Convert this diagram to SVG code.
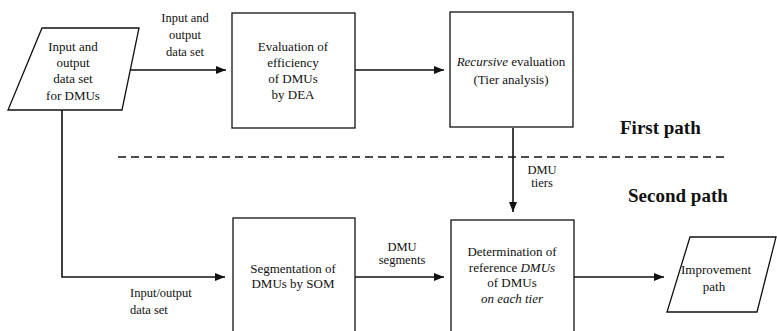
<svg xmlns="http://www.w3.org/2000/svg" width="777" height="331" viewBox="0 0 777 331" font-family="Liberation Serif, serif">
<style>
text{font-size:13px;fill:#111;text-anchor:middle}
.lbl{font-size:12.5px}
.big{font-size:19px;font-weight:bold;text-anchor:start}
.shape{fill:#fff;stroke:#111;stroke-width:1.3}
.conn{fill:none;stroke:#111;stroke-width:1.6}
.dash{fill:none;stroke:#111;stroke-width:1.6;stroke-dasharray:8 5}
</style>
<defs>
<marker id="ah" viewBox="0 0 10 8" refX="10" refY="4" markerWidth="10" markerHeight="8" markerUnits="userSpaceOnUse" orient="auto">
<path d="M0,0 L10,4 L0,8 Z" fill="#111"/>
</marker>
</defs>
<rect width="777" height="331" fill="#fff"/>
<g id="connectors">
<line class="conn" x1="126" y1="70" x2="226" y2="70" marker-end="url(#ah)"/>
<line class="conn" x1="355" y1="70" x2="444" y2="70" marker-end="url(#ah)"/>
<line class="conn" x1="513" y1="128" x2="513" y2="212" marker-end="url(#ah)"/>
<polyline class="conn" points="62,110 62,277 225,277" marker-end="url(#ah)"/>
<line class="conn" x1="355" y1="277" x2="444" y2="277" marker-end="url(#ah)"/>
<line class="conn" x1="574" y1="277" x2="664" y2="277" marker-end="url(#ah)"/>
<line class="dash" x1="118" y1="157" x2="726" y2="157"/>
<text class="lbl" x="185" y="22">Input and</text>
<text class="lbl" x="185" y="39">output</text>
<text class="lbl" x="185" y="56">data set</text>
<text class="lbl" x="542" y="174">DMU</text>
<text class="lbl" x="542" y="187">tiers</text>
<text class="lbl" x="402" y="251">DMU</text>
<text class="lbl" x="402" y="264">segments</text>
<text class="lbl" x="130" y="297" style="text-anchor:start">Input/output</text>
<text class="lbl" x="130" y="314" style="text-anchor:start">data set</text>
</g>
<g id="input-data">
<polygon class="shape" points="42,28 139,28 122,110 8,110"/>
<text x="73" y="51">Input and</text>
<text x="73" y="67">output</text>
<text x="73" y="83">data set</text>
<text x="73" y="100">for DMUs</text>
</g>
<g id="dea">
<rect class="shape" x="232" y="13" width="123" height="115"/>
<text x="293" y="51">Evaluation of</text>
<text x="293" y="67">efficiency</text>
<text x="293" y="83">of DMUs</text>
<text x="293" y="99">by DEA</text>
</g>
<g id="tier">
<rect class="shape" x="450" y="12" width="123" height="115"/>
<text x="511" y="66"><tspan font-style="italic">Recursive</tspan> evaluation</text>
<text x="511" y="84">(Tier analysis)</text>
</g>
<g id="first-path"><text class="big" x="620" y="134">First path</text></g>
<g id="second-path"><text class="big" x="628" y="202">Second path</text></g>
<g id="som">
<rect class="shape" x="233" y="218" width="122" height="125"/>
<text x="293" y="273">Segmentation of</text>
<text x="293" y="288">DMUs by SOM</text>
</g>
<g id="reference">
<rect class="shape" x="451" y="220" width="123" height="123"/>
<text x="512" y="256">Determination of</text>
<text x="512" y="272">reference <tspan font-style="italic">DMUs</tspan></text>
<text x="512" y="287">of DMUs</text>
<text x="512" y="303" font-style="italic">on each tier</text>
</g>
<g id="improvement">
<polygon class="shape" points="690,237 776,237 757,312 667,312"/>
<text x="716" y="274">Improvement</text>
<text x="714" y="291">path</text>
</g>
</svg>
